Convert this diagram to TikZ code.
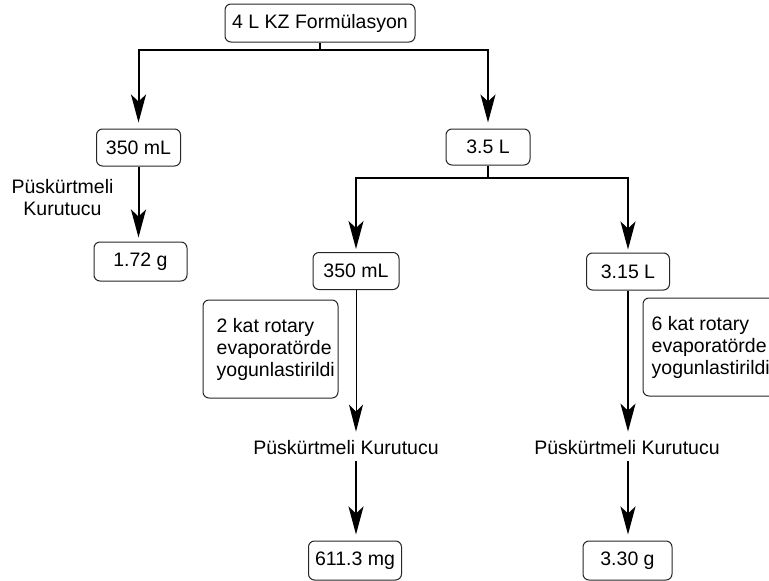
\documentclass[tikz,border=0pt]{standalone}
\usepackage{fontspec}
\setmainfont{Liberation Sans}
\usetikzlibrary{arrows.meta}
\begin{document}
\begin{tikzpicture}[x=1pt,y=-1pt,
  every node/.style={font=\fontsize{19.5}{22}\selectfont, text=black},
  rbox/.style={draw=black!85, line width=1pt, rounded corners=6pt, inner sep=0pt},
  arr/.style={line width=2pt, -{Stealth[length=28pt,width=15pt,inset=7pt]}},
  thinarr/.style={line width=1pt, -{Stealth[length=27pt,width=14pt,inset=7pt]}},
  plain/.style={line width=2pt},
  lbl/.style={inner sep=0pt, align=center}]
\useasboundingbox (0,0) rectangle (769,581);
\clip (0,0) rectangle (769,581);

% boxes
\node[rbox, minimum width=190pt, minimum height=38pt] (top) at (320,23) {4 L KZ Formülasyon};
\node[rbox, minimum width=84pt, minimum height=37pt] (l350) at (138.5,147.5) {350 mL};
\node[rbox, minimum width=93pt, minimum height=39pt] (g172) at (140.5,261.5) {1.72 g};
\node[rbox, minimum width=84pt, minimum height=36pt] (r35) at (488,147) {3.5 L};
\node[rbox, minimum width=86pt, minimum height=37pt] (m350) at (356,271) {350 mL};
\node[rbox, minimum width=83pt, minimum height=37pt] (r315) at (628,271.5) {3.15 L};
\node[rbox, minimum width=135pt, minimum height=98pt] (b1) at (270.5,349) {};
\node[rbox, minimum width=135pt, minimum height=98pt] (b2) at (710.5,347) {};
\node[rbox, minimum width=93pt, minimum height=39pt] (mg) at (355,560.5) {611.3 mg};
\node[rbox, minimum width=89pt, minimum height=39pt] (g330) at (627.5,560.5) {3.30 g};

% texts
\node[lbl, anchor=west, align=left] (t1) at ([xshift=14pt]b1.west) {2 kat rotary\\evaporatörde\\yogunlastirildi};
\node[lbl, anchor=west, align=left] (t2) at ([xshift=9pt]b2.west) {6 kat rotary\\evaporatörde\\yogunlastirildi};
\node[lbl] (pkl) at (62.5,198) {Püskürtmeli\\Kurutucu};
\node[lbl] (pk1) at (346,448) {Püskürtmeli Kurutucu};
\node[lbl] (pk2) at (627,448) {Püskürtmeli Kurutucu};

% connectors
\coordinate (j1) at (320,50);
\draw[plain] (top.south) -- (j1);
\draw[arr, shorten >=6pt] (j1) -| (l350.north);
\draw[arr, shorten >=6pt] (j1) -| (r35.north);
\draw[arr, shorten >=4pt] (l350.south) -- (g172.north -| l350.south);

\coordinate (j2) at (488,178);
\draw[plain] (r35.south) -- (j2);
\draw[arr, shorten >=3pt] (j2) -| (m350.north);
\draw[arr, shorten >=3pt] (j2) -| (r315.north);

\draw[thinarr, shorten >=9pt] (m350.south) -- (m350.south |- pk1.north);
\draw[arr, shorten >=9pt] (r315.south) -- (r315.south |- pk2.north);

\draw[arr, shorten <=6pt, shorten >=6pt] (m350.south |- pk1.south) -- (m350.south |- mg.north);
\draw[arr, shorten <=6pt, shorten >=6pt] (r315.south |- pk2.south) -- (r315.south |- g330.north);
\end{tikzpicture}
\end{document}
